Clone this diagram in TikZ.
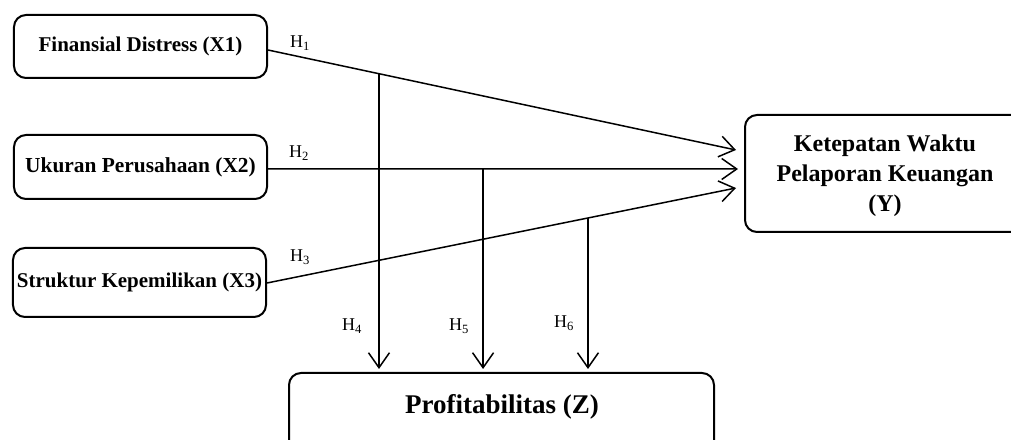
\documentclass[tikz,border=0pt]{standalone}
\usepackage{fontspec}
\setmainfont{Liberation Serif}
\usetikzlibrary{arrows.meta,calc}
\begin{document}
\begin{tikzpicture}[x=1bp,y=-1bp,
  box/.style={draw,line width=2bp,rounded corners=12bp,align=center,inner sep=0pt},
  conn/.style={line width=1.5bp},
  arr/.style={conn,-{Straight Barb[length=15bp,width=21bp,line width=1.5bp]}},
  hlab/.style={font=\fontsize{18bp}{20bp}\selectfont,inner sep=0pt}]
\useasboundingbox (0,0) rectangle (1011,440);
\clip (0,0) rectangle (1011,440);
% boxes
\node[box,minimum width=253bp,minimum height=63bp,font=\fontsize{21bp}{24bp}\selectfont\bfseries] (X1) at (140.5,46.5)
  {Finansial Distress (X1)\vphantom{g}};
\node[box,minimum width=253bp,minimum height=64bp,font=\fontsize{21.4bp}{24bp}\selectfont\bfseries] (X2) at (140.5,167)
  {Ukuran Perusahaan (X2)};
\node[box,minimum width=253bp,minimum height=69bp,font=\fontsize{21bp}{24bp}\selectfont\bfseries] (X3) at (139.5,282.5)
  {Struktur Kepemilikan (X3)};
\node[box,minimum width=280bp,minimum height=117bp] (Y) at (885,173.5) {};
\node[align=center,inner sep=0pt,font=\fontsize{24bp}{30bp}\selectfont\bfseries] (Yt) at (885,176)
  {Ketepatan Waktu\\Pelaporan Keuangan\\(Y)};
\node[box,minimum width=425bp,minimum height=80bp] (Z) at (501.5,413) {};
\node[inner sep=0pt,font=\fontsize{27bp}{30bp}\selectfont\bfseries] (Zt) at (502,407)
  {Profitabilitas (Z)};
% endpoints
\coordinate (s1) at ([yshift=-3.5bp]X1.east);
\coordinate (s2) at ([yshift=-2bp]X2.east);
\coordinate (s3) at ([yshift=-0.5bp]X3.east);
\coordinate (t1) at (736,150);
\coordinate (t2) at (738,169);
\coordinate (t3) at (736,188);
% main arrows
\draw[arr] (s1) -- (t1);
\draw[arr] (s2) -- (t2);
\draw[arr] (s3) -- (t3);
% junctions
\coordinate (j1) at (intersection of s1--t1 and {379,0}--{379,400});
\coordinate (j2) at (intersection of s2--t2 and {483,0}--{483,400});
\coordinate (j3) at (intersection of s3--t3 and {588,0}--{588,400});
\draw[arr,shorten >=3bp] (j1) -- (j1 |- Z.north);
\draw[arr,shorten >=3bp] (j2) -- (j2 |- Z.north);
\draw[arr,shorten >=3bp] (j3) -- (j3 |- Z.north);
% labels
\node[hlab] (h1) at (300,43) {H\textsubscript{1}};
\node[hlab] (h2) at (299,153) {H\textsubscript{2}};
\node[hlab] (h3) at (300,257) {H\textsubscript{3}};
\node[hlab] (h4) at (352,326) {H\textsubscript{4}};
\node[hlab] (h5) at (459,326) {H\textsubscript{5}};
\node[hlab] (h6) at (564,323) {H\textsubscript{6}};
\end{tikzpicture}
\end{document}
